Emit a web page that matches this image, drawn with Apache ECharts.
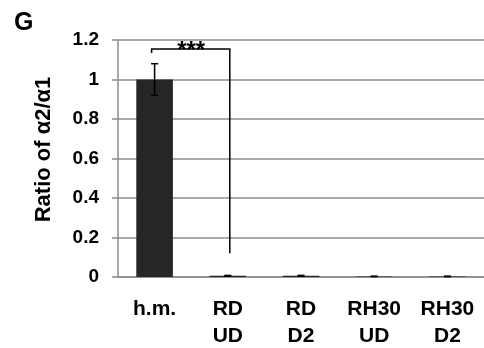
<!DOCTYPE html>
<html>
<head>
<meta charset="utf-8">
<script src="https://cdn.jsdelivr.net/npm/echarts@6/dist/echarts.min.js"></script>
<style>
  html, body { margin: 0; padding: 0; background: #fff; }
  #chart { width: 484px; height: 348px; }
</style>
</head>
<body>
<div id="chart"></div>
<script>
const categories = ["h.m.", "RD\nUD", "RD\nD2", "RH30\nUD", "RH30\nD2"];
const ratios = [1.0, 0.006, 0.006, 0.003, 0.003];
const errors = [0.08, 0.002, 0.002, 0.001, 0.001];
const yTicks = [0, 0.2, 0.4, 0.6, 0.8, 1, 1.2];
// significance bracket: from h.m. to RD UD
const sigPair = [0, 1];
const sigTop = 1.155;
const sigBottom = 0.12;
const sigLabel = "***";

const font = "Liberation Sans, Arial, sans-serif";
const chart = echarts.init(document.getElementById("chart"));

const option = {
  animation: false,
  title: {
    text: "G", left: 9, top: 6,
    textStyle: { fontFamily: font, fontWeight: "bold", fontSize: 25, color: "#000" }
  },
  grid: { left: 118, right: 0, top: 40, bottom: 71, outerBoundsMode: "none", containLabel: false },
  xAxis: {
    type: "category",
    data: categories,
    axisLine: { lineStyle: { color: "#8c8c8c", width: 1.5 } },
    axisTick: { show: false },
    axisLabel: {
      fontFamily: font, fontWeight: "bold", fontSize: 21, color: "#000",
      lineHeight: 27, margin: 19, interval: 0
    }
  },
  yAxis: {
    type: "value",
    min: yTicks[0], max: yTicks[yTicks.length - 1], interval: 0.2,
    name: "Ratio of α2/α1",
    nameLocation: "middle",
    nameGap: 63,
    nameTextStyle: {
      fontFamily: font, fontWeight: "bold", fontSize: 22, color: "#000",
      padding: [0, 0, 0, 18]
    },
    axisLine: { show: true, lineStyle: { color: "#8c8c8c", width: 1.5 } },
    axisTick: { show: true, length: 6, lineStyle: { color: "#8c8c8c", width: 1.5 } },
    splitLine: { lineStyle: { color: "#8c8c8c", width: 1.5 } },
    axisLabel: {
      fontFamily: font, fontWeight: "bold", fontSize: 19, color: "#000", margin: 19,
      formatter: v => String(Math.round(v * 10) / 10)
    }
  },
  series: [
    {
      type: "bar",
      data: ratios,
      barWidth: "50%",
      itemStyle: { color: "#262626" },
      z: 2
    },
    {
      type: "custom",
      data: ratios.map((v, i) => [i, v, errors[i]]),
      z: 3,
      renderItem: function (params, api) {
        const x = api.value(0), v = api.value(1), e = api.value(2);
        const hi = api.coord([x, v + e]);
        const lo = api.coord([x, v - e]);
        const cap = 3.5;
        const st = { stroke: "#000", lineWidth: 1.5 };
        return {
          type: "group",
          children: [
            { type: "line", shape: { x1: hi[0], y1: hi[1], x2: lo[0], y2: lo[1] }, style: st },
            { type: "line", shape: { x1: hi[0] - cap, y1: hi[1], x2: hi[0] + cap, y2: hi[1] }, style: st },
            { type: "line", shape: { x1: lo[0] - cap, y1: lo[1], x2: lo[0] + cap, y2: lo[1] }, style: st }
          ]
        };
      }
    },
    {
      type: "custom",
      data: [[sigPair[0], sigPair[1], sigTop, sigBottom]],
      z: 4,
      renderItem: function (params, api) {
        const a = api.coord([api.value(0), api.value(2)]);
        const b = api.coord([api.value(1), api.value(2)]);
        const bb = api.coord([api.value(1), api.value(3)]);
        const st = { stroke: "#000", lineWidth: 1.5, fill: null };
        const xl = a[0] - 3, xr = b[0] + 2;
        return {
          type: "group",
          children: [
            { type: "polyline", shape: { points: [[xl, a[1] + 4], [xl, a[1]], [xr, a[1]], [xr, bb[1]]] }, style: st },
            {
              type: "text",
              style: {
                text: sigLabel, x: (xl + xr) / 2 + 0.5, y: a[1] + 2,
                align: "center", verticalAlign: "middle",
                font: "bold 24px " + font, fill: "#000"
              }
            }
          ]
        };
      }
    }
  ]
};

chart.setOption(option);
</script>
</body>
</html>
